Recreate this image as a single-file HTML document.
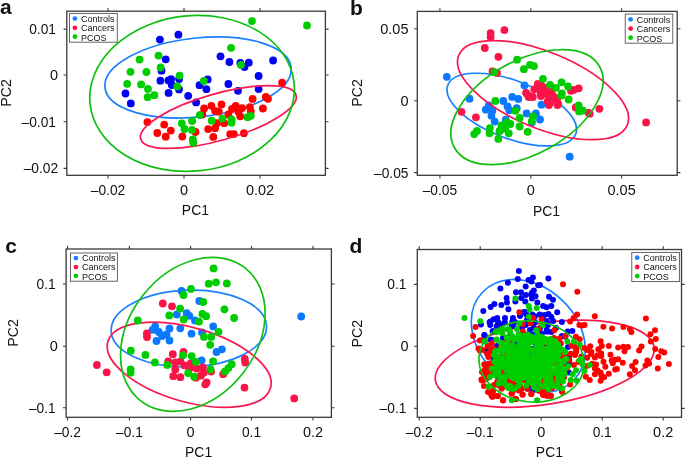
<!DOCTYPE html>
<html><head><meta charset="utf-8"><title>PCA plots</title>
<style>html,body{margin:0;padding:0;background:#fff;}svg{display:block;will-change:transform;}</style></head>
<body><svg width="685" height="459" viewBox="0 0 685 459" font-family='"Liberation Sans", sans-serif' fill="#111">
<rect width="685" height="459" fill="#fff"/>
<g fill="#0000f5"><circle cx="159.9" cy="39.6" r="3.9"/><circle cx="178.4" cy="34.7" r="3.9"/><circle cx="165.7" cy="59.3" r="3.9"/><circle cx="161.5" cy="70.7" r="3.9"/><circle cx="160.4" cy="80.7" r="3.9"/><circle cx="168.5" cy="80.4" r="3.9"/><circle cx="171.1" cy="79.1" r="3.9"/><circle cx="171.8" cy="85.0" r="3.9"/><circle cx="179.1" cy="79.0" r="3.9"/><circle cx="179.0" cy="89.4" r="3.9"/><circle cx="125.5" cy="93.5" r="3.9"/><circle cx="168.6" cy="92.9" r="3.9"/><circle cx="188.2" cy="95.8" r="3.9"/><circle cx="130.8" cy="103.4" r="3.9"/><circle cx="196.1" cy="102.4" r="3.9"/><circle cx="199.5" cy="85.2" r="3.9"/><circle cx="207.7" cy="79.4" r="3.9"/><circle cx="206.4" cy="89.2" r="3.9"/><circle cx="228.4" cy="84.0" r="3.9"/><circle cx="238.0" cy="90.8" r="3.9"/><circle cx="258.6" cy="89.1" r="3.9"/><circle cx="258.6" cy="76.0" r="3.9"/><circle cx="220.5" cy="56.3" r="3.9"/><circle cx="229.4" cy="62.0" r="3.9"/><circle cx="240.3" cy="62.9" r="3.9"/><circle cx="248.8" cy="62.7" r="3.9"/><circle cx="244.5" cy="67.0" r="3.9"/><circle cx="273.1" cy="60.5" r="3.9"/></g>
<ellipse cx="198.05" cy="77.45" rx="39.45" ry="93.61" transform="rotate(83.81 198.05 77.45)" fill="none" stroke="#1a80ff" stroke-width="1.7"/>
<g fill="#ff0000"><circle cx="147.4" cy="122.1" r="3.9"/><circle cx="164.2" cy="124.6" r="3.9"/><circle cx="170.8" cy="130.6" r="3.9"/><circle cx="157.3" cy="133.0" r="3.9"/><circle cx="165.7" cy="136.7" r="3.9"/><circle cx="182.3" cy="136.5" r="3.9"/><circle cx="195.5" cy="132.0" r="3.9"/><circle cx="204.1" cy="108.5" r="3.9"/><circle cx="202.3" cy="114.5" r="3.9"/><circle cx="211.4" cy="105.8" r="3.9"/><circle cx="221.5" cy="104.4" r="3.9"/><circle cx="215.1" cy="110.8" r="3.9"/><circle cx="218.8" cy="111.7" r="3.9"/><circle cx="235.7" cy="105.8" r="3.9"/><circle cx="232.0" cy="109.0" r="3.9"/><circle cx="228.4" cy="114.5" r="3.9"/><circle cx="242.1" cy="108.1" r="3.9"/><circle cx="238.4" cy="111.7" r="3.9"/><circle cx="240.3" cy="116.3" r="3.9"/><circle cx="249.9" cy="107.1" r="3.9"/><circle cx="250.8" cy="111.3" r="3.9"/><circle cx="252.6" cy="99.0" r="3.9"/><circle cx="208.2" cy="129.1" r="3.9"/><circle cx="215.1" cy="128.2" r="3.9"/><circle cx="216.9" cy="123.2" r="3.9"/><circle cx="224.2" cy="123.2" r="3.9"/><circle cx="213.3" cy="136.9" r="3.9"/><circle cx="230.2" cy="134.1" r="3.9"/><circle cx="233.9" cy="134.1" r="3.9"/><circle cx="243.9" cy="133.2" r="3.9"/><circle cx="262.9" cy="108.5" r="3.9"/><circle cx="265.8" cy="97.0" r="3.9"/><circle cx="268.0" cy="98.8" r="3.9"/><circle cx="282.1" cy="82.7" r="3.9"/></g>
<ellipse cx="218.38" cy="117.07" rx="23.35" ry="80.71" transform="rotate(74.24 218.38 117.07)" fill="none" stroke="#f81850" stroke-width="1.7"/>
<g fill="#00cd00"><circle cx="158.5" cy="55.6" r="3.9"/><circle cx="139.6" cy="59.6" r="3.9"/><circle cx="160.6" cy="67.5" r="3.9"/><circle cx="130.5" cy="71.8" r="3.9"/><circle cx="146.4" cy="72.0" r="3.9"/><circle cx="179.6" cy="75.7" r="3.9"/><circle cx="127.2" cy="83.8" r="3.9"/><circle cx="141.1" cy="84.4" r="3.9"/><circle cx="148.0" cy="88.9" r="3.9"/><circle cx="177.3" cy="86.4" r="3.9"/><circle cx="154.4" cy="95.2" r="3.9"/><circle cx="147.7" cy="97.2" r="3.9"/><circle cx="203.8" cy="81.0" r="3.9"/><circle cx="231.0" cy="47.8" r="3.9"/><circle cx="241.0" cy="64.9" r="3.9"/><circle cx="252.0" cy="21.1" r="3.9"/><circle cx="307.0" cy="25.5" r="3.9"/><circle cx="199.8" cy="115.1" r="3.9"/><circle cx="192.1" cy="120.9" r="3.9"/><circle cx="181.8" cy="123.3" r="3.9"/><circle cx="184.5" cy="129.0" r="3.9"/><circle cx="192.0" cy="129.9" r="3.9"/><circle cx="192.8" cy="139.5" r="3.9"/><circle cx="193.3" cy="142.7" r="3.9"/><circle cx="211.7" cy="120.7" r="3.9"/><circle cx="222.4" cy="118.6" r="3.9"/><circle cx="231.6" cy="119.5" r="3.9"/><circle cx="231.6" cy="122.7" r="3.9"/><circle cx="247.6" cy="117.2" r="3.9"/><circle cx="250.8" cy="115.8" r="3.9"/></g>
<ellipse cx="192.08" cy="93.42" rx="102.53" ry="77.68" transform="rotate(174.15 192.08 93.42)" fill="none" stroke="#10c010" stroke-width="1.7"/>
<path d="M108 175.3v3.2M108 11.2v-3.2M184 175.3v3.2M184 11.2v-3.2M260 175.3v3.2M260 11.2v-3.2M66.8 29.1h-3.2M325.4 29.1h3.2M66.8 75h-3.2M325.4 75h3.2M66.8 121.8h-3.2M325.4 121.8h3.2M66.8 168.4h-3.2M325.4 168.4h3.2" stroke="#3a3a3a" stroke-width="1.1" fill="none"/>
<rect x="66.8" y="11.2" width="258.59999999999997" height="164.10000000000002" fill="none" stroke="#3a3a3a" stroke-width="1.3"/>
<text x="0" y="0" font-size="14.5" text-anchor="middle" font-weight="normal" transform="translate(108 195) scale(0.95 1)" >&#8211;0.02</text>
<text x="184" y="195" font-size="14.5" text-anchor="middle" font-weight="normal" >0</text>
<text x="260" y="195" font-size="14.5" text-anchor="middle" font-weight="normal" >0.02</text>
<text x="0" y="0" font-size="14.5" text-anchor="end" font-weight="normal" transform="translate(56.0 34.1) scale(0.95 1)" >0.01</text>
<text x="58.1" y="80.0" font-size="14.5" text-anchor="end" font-weight="normal" >0</text>
<text x="0" y="0" font-size="14.5" text-anchor="end" font-weight="normal" transform="translate(56.0 126.8) scale(0.95 1)" >&#8211;0.01</text>
<text x="0" y="0" font-size="14.5" text-anchor="end" font-weight="normal" transform="translate(58.1 173.4) scale(0.95 1)" >&#8211;0.02</text>
<text x="0" y="0" font-size="14.5" text-anchor="middle" font-weight="normal" transform="translate(195.4 215.3) scale(0.96 1)" >PC1</text>
<text x="0" y="0" font-size="14.5" text-anchor="middle" transform="translate(11.3 93.0) rotate(-90) scale(0.98 1)">PC2</text>
<rect x="69.5" y="13.4" width="47.8" height="28.800000000000004" fill="#fff" stroke="#555" stroke-width="0.9"/>
<circle cx="74.9" cy="18.6" r="2.4" fill="#1a80ff"/>
<text x="81.0" y="21.8" font-size="9">Controls</text>
<circle cx="74.9" cy="27.8" r="2.4" fill="#fa1448"/>
<text x="81.0" y="31.1" font-size="9">Cancers</text>
<circle cx="74.9" cy="36.7" r="2.4" fill="#00cd00"/>
<text x="81.0" y="40.5" font-size="9">PCOS</text>
<text x="0" y="14.1" font-size="21" text-anchor="start" font-weight="bold" >a</text>
<g fill="#0a78ff"><circle cx="446.8" cy="76.8" r="3.9"/><circle cx="469.5" cy="98.7" r="3.9"/><circle cx="488.8" cy="105.3" r="3.9"/><circle cx="485.8" cy="109.7" r="3.9"/><circle cx="492.3" cy="111.0" r="3.9"/><circle cx="491.5" cy="115.8" r="3.9"/><circle cx="494.7" cy="121.6" r="3.9"/><circle cx="503.3" cy="101.0" r="3.9"/><circle cx="507.5" cy="106.4" r="3.9"/><circle cx="509.4" cy="110.2" r="3.9"/><circle cx="512.2" cy="96.9" r="3.9"/><circle cx="518.3" cy="98.9" r="3.9"/><circle cx="516.7" cy="108.2" r="3.9"/><circle cx="526.6" cy="113.4" r="3.9"/><circle cx="505.8" cy="119.7" r="3.9"/><circle cx="535.9" cy="113.4" r="3.9"/><circle cx="540.0" cy="119.5" r="3.9"/><circle cx="531.8" cy="122.6" r="3.9"/><circle cx="541.5" cy="104.7" r="3.9"/><circle cx="524.4" cy="85.5" r="3.9"/><circle cx="569.7" cy="156.7" r="3.9"/></g>
<ellipse cx="511.79" cy="109.59" rx="68.49" ry="28.79" transform="rotate(-159.07 511.79 109.59)" fill="none" stroke="#1a80ff" stroke-width="1.7"/>
<g fill="#fa1448"><circle cx="504.4" cy="30.1" r="3.9"/><circle cx="490.6" cy="33.1" r="3.9"/><circle cx="490.6" cy="37.1" r="3.9"/><circle cx="484.8" cy="48.0" r="3.9"/><circle cx="498.4" cy="56.8" r="3.9"/><circle cx="492.5" cy="71.4" r="3.9"/><circle cx="497.0" cy="73.0" r="3.9"/><circle cx="461.5" cy="111.8" r="3.9"/><circle cx="475.9" cy="117.3" r="3.9"/><circle cx="526.6" cy="93.6" r="3.9"/><circle cx="530.4" cy="96.7" r="3.9"/><circle cx="536.7" cy="88.2" r="3.9"/><circle cx="540.8" cy="84.6" r="3.9"/><circle cx="543.1" cy="93.6" r="3.9"/><circle cx="548.9" cy="91.0" r="3.9"/><circle cx="547.7" cy="101.5" r="3.9"/><circle cx="552.4" cy="96.9" r="3.9"/><circle cx="558.2" cy="103.9" r="3.9"/><circle cx="556.2" cy="99.0" r="3.9"/><circle cx="571.0" cy="90.8" r="3.9"/><circle cx="578.7" cy="88.3" r="3.9"/><circle cx="573.9" cy="89.8" r="3.9"/><circle cx="575.7" cy="107.4" r="3.9"/><circle cx="588.4" cy="112.6" r="3.9"/><circle cx="589.7" cy="113.7" r="3.9"/><circle cx="599.4" cy="108.8" r="3.9"/><circle cx="646.1" cy="122.4" r="3.9"/><circle cx="528.7" cy="97.0" r="3.9"/><circle cx="532.8" cy="97.0" r="3.9"/><circle cx="541.0" cy="96.0" r="3.9"/><circle cx="549.2" cy="103.2" r="3.9"/><circle cx="557.3" cy="104.2" r="3.9"/><circle cx="555.3" cy="98.1" r="3.9"/><circle cx="537.8" cy="84.0" r="3.9"/><circle cx="534.3" cy="89.3" r="3.9"/><circle cx="540.7" cy="93.9" r="3.9"/><circle cx="543.6" cy="87.5" r="3.9"/><circle cx="547.7" cy="89.9" r="3.9"/><circle cx="551.2" cy="92.2" r="3.9"/><circle cx="553.5" cy="96.3" r="3.9"/><circle cx="548.9" cy="96.9" r="3.9"/><circle cx="550.0" cy="102.1" r="3.9"/><circle cx="548.9" cy="105.0" r="3.9"/><circle cx="557.0" cy="99.8" r="3.9"/><circle cx="557.6" cy="105.0" r="3.9"/><circle cx="530.2" cy="96.3" r="3.9"/><circle cx="526.1" cy="92.8" r="3.9"/></g>
<ellipse cx="543.03" cy="90.13" rx="37.98" ry="91.21" transform="rotate(112.58 543.03 90.13)" fill="none" stroke="#f81850" stroke-width="1.7"/>
<g fill="#00cd00"><circle cx="494.3" cy="72.2" r="3.9"/><circle cx="495.4" cy="101.0" r="3.9"/><circle cx="515.4" cy="110.8" r="3.9"/><circle cx="519.7" cy="118.0" r="3.9"/><circle cx="519.6" cy="126.5" r="3.9"/><circle cx="506.8" cy="122.4" r="3.9"/><circle cx="510.4" cy="124.0" r="3.9"/><circle cx="501.5" cy="125.3" r="3.9"/><circle cx="505.2" cy="128.5" r="3.9"/><circle cx="499.5" cy="130.9" r="3.9"/><circle cx="508.8" cy="133.3" r="3.9"/><circle cx="489.9" cy="128.1" r="3.9"/><circle cx="489.5" cy="133.3" r="3.9"/><circle cx="477.0" cy="130.9" r="3.9"/><circle cx="474.2" cy="134.1" r="3.9"/><circle cx="498.3" cy="138.9" r="3.9"/><circle cx="523.9" cy="69.2" r="3.9"/><circle cx="530.1" cy="64.8" r="3.9"/><circle cx="534.0" cy="66.1" r="3.9"/><circle cx="517.1" cy="59.7" r="3.9"/><circle cx="543.0" cy="78.8" r="3.9"/><circle cx="550.1" cy="84.8" r="3.9"/><circle cx="555.9" cy="87.8" r="3.9"/><circle cx="561.6" cy="82.3" r="3.9"/><circle cx="568.0" cy="86.4" r="3.9"/><circle cx="561.8" cy="93.5" r="3.9"/><circle cx="568.6" cy="99.5" r="3.9"/><circle cx="578.6" cy="105.4" r="3.9"/><circle cx="579.1" cy="111.4" r="3.9"/><circle cx="582.8" cy="110.5" r="3.9"/><circle cx="532.8" cy="116.5" r="3.9"/><circle cx="531.8" cy="121.1" r="3.9"/><circle cx="527.7" cy="131.8" r="3.9"/><circle cx="500.1" cy="130.8" r="3.9"/><circle cx="561.4" cy="95.5" r="3.9"/></g>
<ellipse cx="527.00" cy="107.09" rx="46.70" ry="83.14" transform="rotate(60.75 527.00 107.09)" fill="none" stroke="#10c010" stroke-width="1.7"/>
<path d="M439.9 175.3v3.2M439.9 11.4v-3.2M530.8 175.3v3.2M530.8 11.4v-3.2M621.6 175.3v3.2M621.6 11.4v-3.2M417.3 28.8h-3.2M677.2 28.8h3.2M417.3 100.75h-3.2M677.2 100.75h3.2M417.3 172.6h-3.2M677.2 172.6h3.2" stroke="#3a3a3a" stroke-width="1.1" fill="none"/>
<rect x="417.3" y="11.4" width="259.90000000000003" height="163.9" fill="none" stroke="#3a3a3a" stroke-width="1.3"/>
<text x="0" y="0" font-size="14.5" text-anchor="middle" font-weight="normal" transform="translate(439.9 195) scale(0.95 1)" >&#8211;0.05</text>
<text x="530.8" y="195" font-size="14.5" text-anchor="middle" font-weight="normal" >0</text>
<text x="621.6" y="195" font-size="14.5" text-anchor="middle" font-weight="normal" >0.05</text>
<text x="408.5" y="33.8" font-size="14.5" text-anchor="end" font-weight="normal" >0.05</text>
<text x="408.5" y="105.75" font-size="14.5" text-anchor="end" font-weight="normal" >0</text>
<text x="0" y="0" font-size="14.5" text-anchor="end" font-weight="normal" transform="translate(408.5 177.6) scale(0.95 1)" >&#8211;0.05</text>
<text x="0" y="0" font-size="14.5" text-anchor="middle" font-weight="normal" transform="translate(546.5 215.5) scale(0.96 1)" >PC1</text>
<text x="0" y="0" font-size="14.5" text-anchor="middle" transform="translate(361.8 92.9) rotate(-90) scale(0.98 1)">PC2</text>
<rect x="625.2" y="14.1" width="47.59999999999991" height="29.1" fill="#fff" stroke="#555" stroke-width="0.9"/>
<circle cx="630.6" cy="19.3" r="2.4" fill="#1a80ff"/>
<text x="636.7" y="22.5" font-size="9">Controls</text>
<circle cx="630.6" cy="28.6" r="2.4" fill="#fa1448"/>
<text x="636.7" y="32.0" font-size="9">Cancers</text>
<circle cx="630.6" cy="37.7" r="2.4" fill="#00cd00"/>
<text x="636.7" y="41.5" font-size="9">PCOS</text>
<text x="350" y="14.8" font-size="21" text-anchor="start" font-weight="bold" >b</text>
<g fill="#0a78ff"><circle cx="181.5" cy="290.9" r="3.9"/><circle cx="199.3" cy="301.0" r="3.9"/><circle cx="176.8" cy="314.5" r="3.9"/><circle cx="186.7" cy="313.2" r="3.9"/><circle cx="189.4" cy="315.8" r="3.9"/><circle cx="195.0" cy="320.5" r="3.9"/><circle cx="155.2" cy="326.3" r="3.9"/><circle cx="152.6" cy="329.8" r="3.9"/><circle cx="158.8" cy="332.0" r="3.9"/><circle cx="162.0" cy="336.0" r="3.9"/><circle cx="156.5" cy="341.0" r="3.9"/><circle cx="166.5" cy="334.5" r="3.9"/><circle cx="169.5" cy="328.4" r="3.9"/><circle cx="169.5" cy="340.5" r="3.9"/><circle cx="180.3" cy="328.3" r="3.9"/><circle cx="191.5" cy="333.7" r="3.9"/><circle cx="202.0" cy="332.3" r="3.9"/><circle cx="213.2" cy="326.4" r="3.9"/><circle cx="216.5" cy="352.0" r="3.9"/><circle cx="221.9" cy="349.3" r="3.9"/><circle cx="201.6" cy="360.3" r="3.9"/><circle cx="301.2" cy="316.5" r="3.9"/></g>
<ellipse cx="188.86" cy="328.49" rx="38.39" ry="77.76" transform="rotate(88.29 188.86 328.49)" fill="none" stroke="#1a80ff" stroke-width="1.7"/>
<g fill="#fa1448"><circle cx="162.8" cy="303.5" r="3.9"/><circle cx="172.0" cy="306.3" r="3.9"/><circle cx="146.9" cy="333.5" r="3.9"/><circle cx="147.0" cy="337.0" r="3.9"/><circle cx="96.9" cy="365.0" r="3.9"/><circle cx="106.7" cy="372.3" r="3.9"/><circle cx="172.8" cy="354.2" r="3.9"/><circle cx="183.5" cy="351.8" r="3.9"/><circle cx="168.2" cy="361.4" r="3.9"/><circle cx="175.3" cy="362.4" r="3.9"/><circle cx="180.4" cy="361.4" r="3.9"/><circle cx="175.3" cy="369.5" r="3.9"/><circle cx="184.5" cy="365.4" r="3.9"/><circle cx="190.7" cy="363.4" r="3.9"/><circle cx="189.6" cy="368.5" r="3.9"/><circle cx="196.8" cy="368.5" r="3.9"/><circle cx="202.9" cy="367.5" r="3.9"/><circle cx="203.9" cy="372.6" r="3.9"/><circle cx="200.9" cy="375.7" r="3.9"/><circle cx="195.8" cy="377.7" r="3.9"/><circle cx="173.3" cy="376.2" r="3.9"/><circle cx="180.4" cy="377.2" r="3.9"/><circle cx="211.1" cy="371.6" r="3.9"/><circle cx="205.3" cy="384.3" r="3.9"/><circle cx="206.6" cy="382.5" r="3.9"/><circle cx="223.2" cy="374.2" r="3.9"/><circle cx="244.8" cy="358.9" r="3.9"/><circle cx="245.2" cy="362.6" r="3.9"/><circle cx="244.5" cy="387.6" r="3.9"/><circle cx="294.2" cy="398.4" r="3.9"/></g>
<ellipse cx="189.20" cy="364.77" rx="37.11" ry="84.54" transform="rotate(105.92 189.20 364.77)" fill="none" stroke="#f81850" stroke-width="1.7"/>
<g fill="#00cd00"><circle cx="213.6" cy="268.4" r="3.9"/><circle cx="208.7" cy="283.7" r="3.9"/><circle cx="216.0" cy="282.3" r="3.9"/><circle cx="226.8" cy="283.4" r="3.9"/><circle cx="191.0" cy="288.9" r="3.9"/><circle cx="183.5" cy="295.0" r="3.9"/><circle cx="203.2" cy="302.0" r="3.9"/><circle cx="137.8" cy="320.5" r="3.9"/><circle cx="180.1" cy="308.6" r="3.9"/><circle cx="224.4" cy="309.3" r="3.9"/><circle cx="169.3" cy="315.4" r="3.9"/><circle cx="183.7" cy="319.5" r="3.9"/><circle cx="199.0" cy="321.6" r="3.9"/><circle cx="202.4" cy="313.9" r="3.9"/><circle cx="206.1" cy="316.2" r="3.9"/><circle cx="234.1" cy="318.0" r="3.9"/><circle cx="218.5" cy="331.8" r="3.9"/><circle cx="204.0" cy="336.9" r="3.9"/><circle cx="211.2" cy="336.9" r="3.9"/><circle cx="210.2" cy="344.8" r="3.9"/><circle cx="183.0" cy="355.2" r="3.9"/><circle cx="191.6" cy="356.1" r="3.9"/><circle cx="195.9" cy="361.9" r="3.9"/><circle cx="213.1" cy="361.3" r="3.9"/><circle cx="167.2" cy="364.9" r="3.9"/><circle cx="188.1" cy="373.1" r="3.9"/><circle cx="194.2" cy="376.7" r="3.9"/><circle cx="210.6" cy="369.5" r="3.9"/><circle cx="231.7" cy="364.2" r="3.9"/><circle cx="228.4" cy="368.1" r="3.9"/><circle cx="225.1" cy="371.4" r="3.9"/><circle cx="130.8" cy="350.7" r="3.9"/><circle cx="145.4" cy="354.9" r="3.9"/><circle cx="154.9" cy="362.4" r="3.9"/><circle cx="130.6" cy="369.5" r="3.9"/><circle cx="130.6" cy="372.7" r="3.9"/></g>
<ellipse cx="192.84" cy="334.38" rx="63.38" ry="84.51" transform="rotate(-141.57 192.84 334.38)" fill="none" stroke="#10c010" stroke-width="1.7"/>
<path d="M67.6 417.3v3.2M67.6 249v-3.2M129.4 417.3v3.2M129.4 249v-3.2M190.6 417.3v3.2M190.6 249v-3.2M251.5 417.3v3.2M251.5 249v-3.2M313 417.3v3.2M313 249v-3.2M66.1 284h-3.2M331.4 284h3.2M66.1 346.2h-3.2M331.4 346.2h3.2M66.1 407.8h-3.2M331.4 407.8h3.2" stroke="#3a3a3a" stroke-width="1.1" fill="none"/>
<rect x="66.1" y="249" width="265.29999999999995" height="168.3" fill="none" stroke="#3a3a3a" stroke-width="1.3"/>
<text x="0" y="0" font-size="14.5" text-anchor="middle" font-weight="normal" transform="translate(67.6 437.3) scale(0.95 1)" >&#8211;0.2</text>
<text x="0" y="0" font-size="14.5" text-anchor="middle" font-weight="normal" transform="translate(129.4 437.3) scale(0.95 1)" >&#8211;0.1</text>
<text x="190.6" y="437.3" font-size="14.5" text-anchor="middle" font-weight="normal" >0</text>
<text x="0" y="0" font-size="14.5" text-anchor="middle" font-weight="normal" transform="translate(251.5 437.3) scale(0.95 1)" >0.1</text>
<text x="313" y="437.3" font-size="14.5" text-anchor="middle" font-weight="normal" >0.2</text>
<text x="0" y="0" font-size="14.5" text-anchor="end" font-weight="normal" transform="translate(55.699999999999996 289.0) scale(0.95 1)" >0.1</text>
<text x="57.8" y="351.2" font-size="14.5" text-anchor="end" font-weight="normal" >0</text>
<text x="0" y="0" font-size="14.5" text-anchor="end" font-weight="normal" transform="translate(55.699999999999996 412.8) scale(0.95 1)" >&#8211;0.1</text>
<text x="0" y="0" font-size="14.5" text-anchor="middle" font-weight="normal" transform="translate(198.6 457.4) scale(0.96 1)" >PC1</text>
<text x="0" y="0" font-size="14.5" text-anchor="middle" transform="translate(17.6 333) rotate(-90) scale(0.98 1)">PC2</text>
<rect x="70.5" y="253" width="46.900000000000006" height="28.19999999999999" fill="#fff" stroke="#555" stroke-width="0.9"/>
<circle cx="75.9" cy="258.1" r="2.4" fill="#1a80ff"/>
<text x="82.0" y="261.2" font-size="9">Controls</text>
<circle cx="75.9" cy="267.1" r="2.4" fill="#fa1448"/>
<text x="82.0" y="270.3" font-size="9">Cancers</text>
<circle cx="75.9" cy="275.8" r="2.4" fill="#00cd00"/>
<text x="82.0" y="279.5" font-size="9">PCOS</text>
<text x="5.3" y="252.5" font-size="21" text-anchor="start" font-weight="bold" >c</text>
<ellipse cx="528.32" cy="335.97" rx="49.22" ry="63.36" transform="rotate(133.98 528.32 335.97)" fill="none" stroke="#1a80ff" stroke-width="1.7"/>
<ellipse cx="544.72" cy="363.74" rx="110.61" ry="40.62" transform="rotate(171.34 544.72 363.74)" fill="none" stroke="#f81850" stroke-width="1.7"/>
<g fill="#0000f5"><circle cx="518.9" cy="270.9" r="3.0"/><circle cx="517.8" cy="278.9" r="3.0"/><circle cx="507.9" cy="282.8" r="3.0"/><circle cx="500.4" cy="288.5" r="3.0"/><circle cx="525.7" cy="286.6" r="3.0"/><circle cx="528.5" cy="280.1" r="3.0"/><circle cx="516.0" cy="292.3" r="3.0"/><circle cx="521.0" cy="292.2" r="3.0"/><circle cx="525.9" cy="295.1" r="3.0"/><circle cx="506.6" cy="298.1" r="3.0"/><circle cx="507.0" cy="302.5" r="3.0"/><circle cx="515.4" cy="301.5" r="3.0"/><circle cx="521.2" cy="298.0" r="3.0"/><circle cx="525.3" cy="301.5" r="3.0"/><circle cx="494.4" cy="303.9" r="3.0"/><circle cx="490.6" cy="306.9" r="3.0"/><circle cx="501.4" cy="305.0" r="3.0"/><circle cx="508.4" cy="309.3" r="3.0"/><circle cx="483.3" cy="311.0" r="3.0"/><circle cx="532.9" cy="277.4" r="3.0"/><circle cx="531.4" cy="281.6" r="3.0"/><circle cx="548.4" cy="278.5" r="3.0"/><circle cx="540.0" cy="285.1" r="3.0"/><circle cx="533.8" cy="290.6" r="3.0"/><circle cx="532.0" cy="292.7" r="3.0"/><circle cx="535.5" cy="296.2" r="3.0"/><circle cx="532.0" cy="298.5" r="3.0"/><circle cx="549.0" cy="296.8" r="3.0"/><circle cx="553.0" cy="299.7" r="3.0"/><circle cx="537.3" cy="302.6" r="3.0"/><circle cx="543.1" cy="306.1" r="3.0"/><circle cx="546.6" cy="307.3" r="3.0"/><circle cx="551.3" cy="306.1" r="3.0"/><circle cx="480.9" cy="324.5" r="3.0"/><circle cx="489.6" cy="322.2" r="3.0"/><circle cx="493.7" cy="319.3" r="3.0"/><circle cx="497.2" cy="318.1" r="3.0"/><circle cx="490.2" cy="325.1" r="3.0"/><circle cx="504.8" cy="322.2" r="3.0"/><circle cx="513.0" cy="318.1" r="3.0"/><circle cx="512.4" cy="321.6" r="3.0"/><circle cx="496.6" cy="326.3" r="3.0"/><circle cx="492.6" cy="331.0" r="3.0"/><circle cx="484.4" cy="335.0" r="3.0"/><circle cx="491.4" cy="339.7" r="3.0"/><circle cx="538.2" cy="285.2" r="3.0"/><circle cx="531.2" cy="294.5" r="3.0"/><circle cx="525.4" cy="312.0" r="3.0"/><circle cx="532.4" cy="314.4" r="3.0"/><circle cx="557.2" cy="312.2" r="3.0"/><circle cx="561.9" cy="322.1" r="3.0"/><circle cx="523.4" cy="312.2" r="3.0"/><circle cx="526.3" cy="314.5" r="3.0"/><circle cx="535.0" cy="316.3" r="3.0"/><circle cx="539.7" cy="314.5" r="3.0"/><circle cx="544.4" cy="315.1" r="3.0"/><circle cx="548.5" cy="313.9" r="3.0"/><circle cx="551.4" cy="316.9" r="3.0"/><circle cx="553.1" cy="321.0" r="3.0"/><circle cx="546.7" cy="321.0" r="3.0"/><circle cx="511.7" cy="325.0" r="3.0"/><circle cx="525.7" cy="325.0" r="3.0"/><circle cx="533.9" cy="327.4" r="3.0"/><circle cx="546.7" cy="329.7" r="3.0"/><circle cx="551.4" cy="332.0" r="3.0"/><circle cx="567.7" cy="331.5" r="3.0"/><circle cx="572.4" cy="330.9" r="3.0"/><circle cx="561.9" cy="336.1" r="3.0"/><circle cx="565.4" cy="336.7" r="3.0"/><circle cx="547.0" cy="331.7" r="3.0"/><circle cx="541.8" cy="333.4" r="3.0"/><circle cx="554.0" cy="350.4" r="3.0"/><circle cx="568.0" cy="346.9" r="3.0"/><circle cx="563.4" cy="365.0" r="3.0"/><circle cx="486.2" cy="351.8" r="3.0"/><circle cx="484.4" cy="335.3" r="3.0"/><circle cx="490.5" cy="339.8" r="3.0"/><circle cx="486.7" cy="350.5" r="3.0"/><circle cx="510.4" cy="335.3" r="3.0"/><circle cx="501.2" cy="324.6" r="3.0"/><circle cx="490.5" cy="321.5" r="3.0"/><circle cx="513.4" cy="326.1" r="3.0"/><circle cx="516.5" cy="344.4" r="3.0"/><circle cx="505.8" cy="342.9" r="3.0"/><circle cx="497.0" cy="346.0" r="3.0"/><circle cx="503.0" cy="338.0" r="3.0"/><circle cx="520.0" cy="316.0" r="3.0"/><circle cx="527.0" cy="320.0" r="3.0"/><circle cx="535.0" cy="322.0" r="3.0"/><circle cx="542.0" cy="318.0" r="3.0"/><circle cx="548.0" cy="325.0" r="3.0"/><circle cx="556.0" cy="328.0" r="3.0"/><circle cx="530.0" cy="330.0" r="3.0"/><circle cx="522.0" cy="328.0" r="3.0"/><circle cx="515.0" cy="322.0" r="3.0"/><circle cx="540.0" cy="328.0" r="3.0"/><circle cx="498.0" cy="322.0" r="3.0"/><circle cx="505.0" cy="318.0" r="3.0"/></g>
<g fill="#0000f5"><circle cx="519.1" cy="334.9" r="3.0"/><circle cx="522.4" cy="334.5" r="3.0"/><circle cx="530.7" cy="334.9" r="3.0"/><circle cx="534.0" cy="334.5" r="3.0"/><circle cx="512.8" cy="340.0" r="3.0"/><circle cx="518.1" cy="338.1" r="3.0"/><circle cx="526.1" cy="340.5" r="3.0"/><circle cx="529.9" cy="337.9" r="3.0"/><circle cx="535.2" cy="337.8" r="3.0"/><circle cx="543.1" cy="339.9" r="3.0"/><circle cx="545.5" cy="339.8" r="3.0"/><circle cx="513.4" cy="344.1" r="3.0"/><circle cx="516.6" cy="342.8" r="3.0"/><circle cx="523.2" cy="342.6" r="3.0"/><circle cx="524.8" cy="343.3" r="3.0"/><circle cx="529.9" cy="341.9" r="3.0"/><circle cx="535.4" cy="342.8" r="3.0"/><circle cx="537.7" cy="342.6" r="3.0"/><circle cx="541.4" cy="343.7" r="3.0"/><circle cx="546.0" cy="343.8" r="3.0"/><circle cx="550.5" cy="344.2" r="3.0"/><circle cx="504.7" cy="347.9" r="3.0"/><circle cx="508.6" cy="347.1" r="3.0"/><circle cx="518.1" cy="346.2" r="3.0"/><circle cx="521.4" cy="347.4" r="3.0"/><circle cx="524.7" cy="346.8" r="3.0"/><circle cx="534.1" cy="348.6" r="3.0"/><circle cx="547.5" cy="347.0" r="3.0"/><circle cx="551.7" cy="348.0" r="3.0"/><circle cx="496.1" cy="350.1" r="3.0"/><circle cx="508.4" cy="350.4" r="3.0"/><circle cx="512.5" cy="352.8" r="3.0"/><circle cx="531.5" cy="352.2" r="3.0"/><circle cx="493.3" cy="355.9" r="3.0"/><circle cx="500.7" cy="356.6" r="3.0"/><circle cx="524.5" cy="357.3" r="3.0"/><circle cx="529.0" cy="356.5" r="3.0"/><circle cx="554.0" cy="356.6" r="3.0"/><circle cx="568.9" cy="356.8" r="3.0"/><circle cx="493.4" cy="360.6" r="3.0"/><circle cx="518.3" cy="358.5" r="3.0"/><circle cx="534.9" cy="361.0" r="3.0"/><circle cx="552.6" cy="361.2" r="3.0"/><circle cx="495.4" cy="363.2" r="3.0"/><circle cx="500.9" cy="363.0" r="3.0"/><circle cx="531.0" cy="363.0" r="3.0"/><circle cx="535.1" cy="363.0" r="3.0"/><circle cx="538.3" cy="363.2" r="3.0"/><circle cx="564.9" cy="364.4" r="3.0"/><circle cx="569.1" cy="363.2" r="3.0"/><circle cx="499.9" cy="368.2" r="3.0"/><circle cx="517.2" cy="367.3" r="3.0"/><circle cx="521.9" cy="369.0" r="3.0"/><circle cx="529.2" cy="368.4" r="3.0"/><circle cx="542.7" cy="367.4" r="3.0"/><circle cx="496.8" cy="373.4" r="3.0"/><circle cx="504.6" cy="371.9" r="3.0"/><circle cx="512.8" cy="373.4" r="3.0"/><circle cx="525.5" cy="372.1" r="3.0"/><circle cx="556.7" cy="372.1" r="3.0"/><circle cx="568.8" cy="372.4" r="3.0"/><circle cx="497.0" cy="375.9" r="3.0"/><circle cx="514.5" cy="377.2" r="3.0"/><circle cx="516.7" cy="376.3" r="3.0"/><circle cx="538.5" cy="375.3" r="3.0"/><circle cx="556.2" cy="375.6" r="3.0"/><circle cx="502.3" cy="380.2" r="3.0"/><circle cx="516.5" cy="380.0" r="3.0"/><circle cx="526.8" cy="380.2" r="3.0"/><circle cx="539.8" cy="379.8" r="3.0"/><circle cx="550.9" cy="382.3" r="3.0"/><circle cx="500.7" cy="385.4" r="3.0"/><circle cx="516.2" cy="384.0" r="3.0"/><circle cx="535.7" cy="385.8" r="3.0"/><circle cx="550.0" cy="383.8" r="3.0"/><circle cx="529.9" cy="388.3" r="3.0"/><circle cx="532.9" cy="389.7" r="3.0"/></g>
<g fill="#ff0000"><circle cx="563.0" cy="284.2" r="3.0"/><circle cx="577.3" cy="291.8" r="3.0"/><circle cx="519.4" cy="312.3" r="3.0"/><circle cx="475.6" cy="326.9" r="3.0"/><circle cx="473.1" cy="335.9" r="3.0"/><circle cx="481.5" cy="340.3" r="3.0"/><circle cx="487.9" cy="346.1" r="3.0"/><circle cx="478.5" cy="348.5" r="3.0"/><circle cx="493.7" cy="349.0" r="3.0"/><circle cx="507.2" cy="343.8" r="3.0"/><circle cx="533.0" cy="317.9" r="3.0"/><circle cx="541.5" cy="319.2" r="3.0"/><circle cx="530.4" cy="323.3" r="3.0"/><circle cx="522.8" cy="323.9" r="3.0"/><circle cx="522.8" cy="331.5" r="3.0"/><circle cx="538.5" cy="329.1" r="3.0"/><circle cx="554.3" cy="330.3" r="3.0"/><circle cx="565.4" cy="336.1" r="3.0"/><circle cx="540.9" cy="339.0" r="3.0"/><circle cx="559.6" cy="338.5" r="3.0"/><circle cx="570.1" cy="321.5" r="3.0"/><circle cx="573.6" cy="318.0" r="3.0"/><circle cx="577.1" cy="314.5" r="3.0"/><circle cx="575.9" cy="336.7" r="3.0"/><circle cx="579.4" cy="325.0" r="3.0"/><circle cx="594.8" cy="316.2" r="3.0"/><circle cx="582.4" cy="325.4" r="3.0"/><circle cx="584.6" cy="324.9" r="3.0"/><circle cx="603.4" cy="326.7" r="3.0"/><circle cx="612.1" cy="328.4" r="3.0"/><circle cx="623.4" cy="327.0" r="3.0"/><circle cx="629.9" cy="329.0" r="3.0"/><circle cx="631.4" cy="332.1" r="3.0"/><circle cx="645.9" cy="318.4" r="3.0"/><circle cx="655.0" cy="330.2" r="3.0"/><circle cx="650.4" cy="334.2" r="3.0"/><circle cx="655.8" cy="338.9" r="3.0"/><circle cx="650.8" cy="341.6" r="3.0"/><circle cx="655.2" cy="348.9" r="3.0"/><circle cx="661.3" cy="351.2" r="3.0"/><circle cx="664.2" cy="352.6" r="3.0"/><circle cx="658.4" cy="356.9" r="3.0"/><circle cx="668.9" cy="364.0" r="3.0"/><circle cx="600.6" cy="341.3" r="3.0"/><circle cx="601.8" cy="346.0" r="3.0"/><circle cx="608.8" cy="346.0" r="3.0"/><circle cx="618.1" cy="347.5" r="3.0"/><circle cx="623.4" cy="346.8" r="3.0"/><circle cx="628.0" cy="347.1" r="3.0"/><circle cx="624.5" cy="351.2" r="3.0"/><circle cx="641.5" cy="346.5" r="3.0"/><circle cx="639.1" cy="350.6" r="3.0"/><circle cx="601.2" cy="353.5" r="3.0"/><circle cx="610.5" cy="354.7" r="3.0"/><circle cx="603.5" cy="361.8" r="3.0"/><circle cx="611.7" cy="360.4" r="3.0"/><circle cx="618.1" cy="359.3" r="3.0"/><circle cx="622.8" cy="362.8" r="3.0"/><circle cx="635.6" cy="361.9" r="3.0"/><circle cx="647.3" cy="360.6" r="3.0"/><circle cx="649.1" cy="363.5" r="3.0"/><circle cx="657.8" cy="368.4" r="3.0"/><circle cx="645.5" cy="365.5" r="3.0"/><circle cx="632.1" cy="366.1" r="3.0"/><circle cx="635.0" cy="370.2" r="3.0"/><circle cx="629.8" cy="374.3" r="3.0"/><circle cx="615.2" cy="369.6" r="3.0"/><circle cx="616.9" cy="369.0" r="3.0"/><circle cx="608.8" cy="373.7" r="3.0"/><circle cx="605.3" cy="366.7" r="3.0"/><circle cx="604.1" cy="377.2" r="3.0"/><circle cx="600.6" cy="380.7" r="3.0"/><circle cx="600.6" cy="372.5" r="3.0"/><circle cx="612.8" cy="363.2" r="3.0"/><circle cx="601.2" cy="356.2" r="3.0"/><circle cx="579.7" cy="339.3" r="3.0"/><circle cx="590.2" cy="346.3" r="3.0"/><circle cx="584.4" cy="348.0" r="3.0"/><circle cx="591.4" cy="352.1" r="3.0"/><circle cx="598.4" cy="349.2" r="3.0"/><circle cx="614.7" cy="359.7" r="3.0"/><circle cx="594.9" cy="357.4" r="3.0"/><circle cx="575.0" cy="346.9" r="3.0"/><circle cx="576.2" cy="351.5" r="3.0"/><circle cx="575.0" cy="355.0" r="3.0"/><circle cx="578.5" cy="362.0" r="3.0"/><circle cx="573.9" cy="365.0" r="3.0"/><circle cx="586.7" cy="366.1" r="3.0"/><circle cx="596.1" cy="364.4" r="3.0"/><circle cx="594.9" cy="368.5" r="3.0"/><circle cx="571.5" cy="345.7" r="3.0"/><circle cx="562.2" cy="351.5" r="3.0"/><circle cx="557.5" cy="353.9" r="3.0"/><circle cx="545.2" cy="389.2" r="3.0"/><circle cx="543.3" cy="395.1" r="3.0"/><circle cx="550.5" cy="395.8" r="3.0"/><circle cx="562.2" cy="391.8" r="3.0"/><circle cx="570.1" cy="384.6" r="3.0"/><circle cx="585.8" cy="376.8" r="3.0"/><circle cx="589.7" cy="380.1" r="3.0"/><circle cx="594.9" cy="374.2" r="3.0"/><circle cx="601.4" cy="375.5" r="3.0"/><circle cx="597.5" cy="370.3" r="3.0"/><circle cx="592.3" cy="363.7" r="3.0"/><circle cx="597.5" cy="355.2" r="3.0"/><circle cx="591.0" cy="353.9" r="3.0"/><circle cx="587.1" cy="357.8" r="3.0"/><circle cx="587.0" cy="350.0" r="3.0"/><circle cx="556.3" cy="380.1" r="3.0"/><circle cx="555.0" cy="377.5" r="3.0"/><circle cx="481.9" cy="380.5" r="3.0"/><circle cx="484.8" cy="365.2" r="3.0"/><circle cx="489.2" cy="369.6" r="3.0"/><circle cx="492.8" cy="391.5" r="3.0"/><circle cx="498.0" cy="395.9" r="3.0"/><circle cx="503.1" cy="400.3" r="3.0"/><circle cx="492.1" cy="396.6" r="3.0"/><circle cx="511.8" cy="393.7" r="3.0"/><circle cx="515.5" cy="398.8" r="3.0"/><circle cx="522.5" cy="394.4" r="3.0"/><circle cx="531.5" cy="394.1" r="3.0"/><circle cx="539.6" cy="390.8" r="3.0"/><circle cx="547.6" cy="390.0" r="3.0"/><circle cx="490.1" cy="351.8" r="3.0"/><circle cx="489.4" cy="364.0" r="3.0"/><circle cx="487.1" cy="369.4" r="3.0"/><circle cx="482.0" cy="372.0" r="3.0"/><circle cx="486.0" cy="377.0" r="3.0"/><circle cx="484.0" cy="386.0" r="3.0"/><circle cx="488.0" cy="392.0" r="3.0"/><circle cx="479.8" cy="340.6" r="3.0"/><circle cx="487.5" cy="345.9" r="3.0"/><circle cx="479.8" cy="350.5" r="3.0"/><circle cx="484.4" cy="364.2" r="3.0"/><circle cx="489.0" cy="365.8" r="3.0"/><circle cx="484.4" cy="370.4" r="3.0"/><circle cx="481.4" cy="379.5" r="3.0"/><circle cx="487.5" cy="378.0" r="3.0"/><circle cx="496.6" cy="384.2" r="3.0"/></g>
<g fill="#ff0000"><circle cx="526.3" cy="334.4" r="3.0"/><circle cx="538.8" cy="335.9" r="3.0"/><circle cx="522.0" cy="338.3" r="3.0"/><circle cx="537.6" cy="339.1" r="3.0"/><circle cx="504.2" cy="342.9" r="3.0"/><circle cx="508.4" cy="342.6" r="3.0"/><circle cx="555.2" cy="344.2" r="3.0"/><circle cx="500.9" cy="346.7" r="3.0"/><circle cx="512.4" cy="348.5" r="3.0"/><circle cx="529.1" cy="348.1" r="3.0"/><circle cx="539.7" cy="348.5" r="3.0"/><circle cx="542.1" cy="346.0" r="3.0"/><circle cx="556.4" cy="347.0" r="3.0"/><circle cx="558.6" cy="346.2" r="3.0"/><circle cx="501.6" cy="351.0" r="3.0"/><circle cx="506.1" cy="351.9" r="3.0"/><circle cx="516.4" cy="352.2" r="3.0"/><circle cx="522.5" cy="352.6" r="3.0"/><circle cx="524.8" cy="352.9" r="3.0"/><circle cx="535.4" cy="352.0" r="3.0"/><circle cx="537.3" cy="352.2" r="3.0"/><circle cx="542.8" cy="352.9" r="3.0"/><circle cx="547.8" cy="350.2" r="3.0"/><circle cx="552.1" cy="350.9" r="3.0"/><circle cx="556.8" cy="352.0" r="3.0"/><circle cx="558.8" cy="350.3" r="3.0"/><circle cx="563.5" cy="350.7" r="3.0"/><circle cx="495.6" cy="356.3" r="3.0"/><circle cx="503.8" cy="355.2" r="3.0"/><circle cx="508.3" cy="354.5" r="3.0"/><circle cx="512.5" cy="356.4" r="3.0"/><circle cx="516.4" cy="355.3" r="3.0"/><circle cx="521.4" cy="354.8" r="3.0"/><circle cx="534.6" cy="354.6" r="3.0"/><circle cx="538.4" cy="354.9" r="3.0"/><circle cx="541.3" cy="357.1" r="3.0"/><circle cx="547.4" cy="357.1" r="3.0"/><circle cx="550.5" cy="355.0" r="3.0"/><circle cx="559.0" cy="354.9" r="3.0"/><circle cx="564.8" cy="357.1" r="3.0"/><circle cx="497.9" cy="360.0" r="3.0"/><circle cx="499.8" cy="359.4" r="3.0"/><circle cx="503.7" cy="360.6" r="3.0"/><circle cx="509.0" cy="361.4" r="3.0"/><circle cx="512.0" cy="359.8" r="3.0"/><circle cx="522.9" cy="360.9" r="3.0"/><circle cx="525.3" cy="360.5" r="3.0"/><circle cx="530.0" cy="359.5" r="3.0"/><circle cx="537.6" cy="359.4" r="3.0"/><circle cx="543.0" cy="359.5" r="3.0"/><circle cx="545.8" cy="359.5" r="3.0"/><circle cx="556.8" cy="361.4" r="3.0"/><circle cx="560.5" cy="358.7" r="3.0"/><circle cx="564.1" cy="359.4" r="3.0"/><circle cx="569.4" cy="359.9" r="3.0"/><circle cx="492.5" cy="364.4" r="3.0"/><circle cx="504.3" cy="363.0" r="3.0"/><circle cx="508.5" cy="364.2" r="3.0"/><circle cx="512.6" cy="364.4" r="3.0"/><circle cx="517.6" cy="364.5" r="3.0"/><circle cx="521.5" cy="362.9" r="3.0"/><circle cx="527.1" cy="364.4" r="3.0"/><circle cx="543.0" cy="365.0" r="3.0"/><circle cx="547.8" cy="362.9" r="3.0"/><circle cx="550.8" cy="362.7" r="3.0"/><circle cx="554.5" cy="363.6" r="3.0"/><circle cx="559.4" cy="365.4" r="3.0"/><circle cx="492.5" cy="369.3" r="3.0"/><circle cx="497.9" cy="368.9" r="3.0"/><circle cx="505.2" cy="367.2" r="3.0"/><circle cx="508.0" cy="369.3" r="3.0"/><circle cx="513.6" cy="367.8" r="3.0"/><circle cx="527.3" cy="366.9" r="3.0"/><circle cx="535.3" cy="367.0" r="3.0"/><circle cx="539.6" cy="368.9" r="3.0"/><circle cx="546.7" cy="369.5" r="3.0"/><circle cx="549.9" cy="367.9" r="3.0"/><circle cx="556.6" cy="368.7" r="3.0"/><circle cx="558.6" cy="368.0" r="3.0"/><circle cx="564.0" cy="368.1" r="3.0"/><circle cx="566.5" cy="368.6" r="3.0"/><circle cx="493.8" cy="374.1" r="3.0"/><circle cx="501.6" cy="373.0" r="3.0"/><circle cx="510.3" cy="373.9" r="3.0"/><circle cx="517.6" cy="373.0" r="3.0"/><circle cx="522.0" cy="372.3" r="3.0"/><circle cx="530.1" cy="372.2" r="3.0"/><circle cx="533.6" cy="372.1" r="3.0"/><circle cx="537.1" cy="373.7" r="3.0"/><circle cx="542.6" cy="372.8" r="3.0"/><circle cx="546.0" cy="371.3" r="3.0"/><circle cx="550.6" cy="373.3" r="3.0"/><circle cx="559.9" cy="371.3" r="3.0"/><circle cx="564.0" cy="374.1" r="3.0"/><circle cx="502.2" cy="377.1" r="3.0"/><circle cx="505.9" cy="377.9" r="3.0"/><circle cx="508.1" cy="375.9" r="3.0"/><circle cx="522.2" cy="376.5" r="3.0"/><circle cx="525.5" cy="375.5" r="3.0"/><circle cx="528.8" cy="377.2" r="3.0"/><circle cx="534.4" cy="377.1" r="3.0"/><circle cx="543.0" cy="378.3" r="3.0"/><circle cx="547.3" cy="377.5" r="3.0"/><circle cx="550.0" cy="375.8" r="3.0"/><circle cx="559.4" cy="376.9" r="3.0"/><circle cx="564.0" cy="377.3" r="3.0"/><circle cx="497.1" cy="381.8" r="3.0"/><circle cx="503.8" cy="379.6" r="3.0"/><circle cx="507.9" cy="381.0" r="3.0"/><circle cx="512.4" cy="382.3" r="3.0"/><circle cx="523.1" cy="380.0" r="3.0"/><circle cx="530.2" cy="381.4" r="3.0"/><circle cx="535.3" cy="380.9" r="3.0"/><circle cx="541.5" cy="381.4" r="3.0"/><circle cx="548.1" cy="379.7" r="3.0"/><circle cx="555.8" cy="380.2" r="3.0"/><circle cx="558.9" cy="380.8" r="3.0"/><circle cx="504.1" cy="386.4" r="3.0"/><circle cx="510.0" cy="386.3" r="3.0"/><circle cx="514.5" cy="386.7" r="3.0"/><circle cx="520.3" cy="386.4" r="3.0"/><circle cx="526.7" cy="384.0" r="3.0"/><circle cx="530.7" cy="384.0" r="3.0"/><circle cx="540.0" cy="383.8" r="3.0"/><circle cx="543.7" cy="385.8" r="3.0"/><circle cx="547.0" cy="384.4" r="3.0"/><circle cx="554.8" cy="386.3" r="3.0"/><circle cx="559.6" cy="384.1" r="3.0"/><circle cx="513.5" cy="389.5" r="3.0"/><circle cx="519.0" cy="390.5" r="3.0"/><circle cx="521.5" cy="388.9" r="3.0"/><circle cx="527.4" cy="389.1" r="3.0"/><circle cx="537.9" cy="389.7" r="3.0"/><circle cx="542.0" cy="388.5" r="3.0"/><circle cx="552.4" cy="388.0" r="3.0"/></g>
<g fill="#ff0000"><circle cx="491.7" cy="343.3" r="3.0"/><circle cx="482.3" cy="349.7" r="3.0"/><circle cx="492.2" cy="349.2" r="3.0"/><circle cx="487.2" cy="353.7" r="3.0"/><circle cx="488.3" cy="357.1" r="3.0"/><circle cx="488.9" cy="363.4" r="3.0"/><circle cx="492.6" cy="363.6" r="3.0"/><circle cx="492.1" cy="366.3" r="3.0"/><circle cx="485.1" cy="372.1" r="3.0"/><circle cx="488.1" cy="372.3" r="3.0"/><circle cx="484.2" cy="374.9" r="3.0"/><circle cx="484.4" cy="379.7" r="3.0"/><circle cx="493.9" cy="385.1" r="3.0"/><circle cx="498.8" cy="385.3" r="3.0"/><circle cx="501.5" cy="388.8" r="3.0"/><circle cx="515.0" cy="389.8" r="3.0"/><circle cx="539.9" cy="388.5" r="3.0"/><circle cx="543.7" cy="389.2" r="3.0"/><circle cx="554.0" cy="338.0" r="3.0"/><circle cx="560.9" cy="343.5" r="3.0"/><circle cx="576.5" cy="347.9" r="3.0"/><circle cx="570.6" cy="353.7" r="3.0"/><circle cx="576.1" cy="351.8" r="3.0"/><circle cx="581.4" cy="356.6" r="3.0"/><circle cx="491.2" cy="394.7" r="3.0"/><circle cx="497.0" cy="396.0" r="3.0"/><circle cx="503.0" cy="400.6" r="3.0"/><circle cx="511.5" cy="393.4" r="3.0"/><circle cx="516.1" cy="399.3" r="3.0"/><circle cx="522.7" cy="394.7" r="3.0"/><circle cx="531.2" cy="394.0" r="3.0"/><circle cx="539.1" cy="390.8" r="3.0"/><circle cx="543.0" cy="394.7" r="3.0"/><circle cx="547.0" cy="396.0" r="3.0"/><circle cx="551.0" cy="396.0" r="3.0"/><circle cx="547.7" cy="389.5" r="3.0"/><circle cx="562.1" cy="391.4" r="3.0"/><circle cx="493.1" cy="390.8" r="3.0"/><circle cx="492.5" cy="396.7" r="3.0"/></g>
<g fill="#00cd00"><circle cx="515.4" cy="298.5" r="3.0"/><circle cx="528.8" cy="306.1" r="3.0"/><circle cx="536.7" cy="307.9" r="3.0"/><circle cx="464.5" cy="318.1" r="3.0"/><circle cx="480.3" cy="321.3" r="3.0"/><circle cx="496.1" cy="331.5" r="3.0"/><circle cx="501.9" cy="329.2" r="3.0"/><circle cx="507.7" cy="329.2" r="3.0"/><circle cx="510.1" cy="332.1" r="3.0"/><circle cx="506.6" cy="337.4" r="3.0"/><circle cx="512.4" cy="336.2" r="3.0"/><circle cx="517.1" cy="329.2" r="3.0"/><circle cx="519.4" cy="323.4" r="3.0"/><circle cx="496.6" cy="339.5" r="3.0"/><circle cx="485.0" cy="341.1" r="3.0"/><circle cx="501.9" cy="343.2" r="3.0"/><circle cx="513.0" cy="345.0" r="3.0"/><circle cx="503.1" cy="348.5" r="3.0"/><circle cx="529.5" cy="309.7" r="3.0"/><circle cx="528.9" cy="316.7" r="3.0"/><circle cx="542.6" cy="325.0" r="3.0"/><circle cx="536.2" cy="330.3" r="3.0"/><circle cx="500.0" cy="330.9" r="3.0"/><circle cx="502.3" cy="333.2" r="3.0"/><circle cx="518.7" cy="334.4" r="3.0"/><circle cx="523.4" cy="336.7" r="3.0"/><circle cx="528.0" cy="334.4" r="3.0"/><circle cx="531.5" cy="336.7" r="3.0"/><circle cx="545.5" cy="339.0" r="3.0"/><circle cx="550.2" cy="339.0" r="3.0"/><circle cx="567.4" cy="341.6" r="3.0"/><circle cx="573.9" cy="341.6" r="3.0"/><circle cx="579.7" cy="344.5" r="3.0"/><circle cx="589.6" cy="365.0" r="3.0"/><circle cx="581.5" cy="359.1" r="3.0"/><circle cx="582.6" cy="364.4" r="3.0"/><circle cx="584.4" cy="370.9" r="3.0"/><circle cx="579.2" cy="360.5" r="3.0"/><circle cx="576.0" cy="370.3" r="3.0"/><circle cx="572.7" cy="374.2" r="3.0"/><circle cx="570.7" cy="380.1" r="3.0"/><circle cx="576.6" cy="380.7" r="3.0"/><circle cx="562.9" cy="381.4" r="3.0"/><circle cx="553.7" cy="385.9" r="3.0"/><circle cx="562.2" cy="388.6" r="3.0"/><circle cx="489.9" cy="376.9" r="3.0"/><circle cx="488.5" cy="386.4" r="3.0"/><circle cx="511.8" cy="400.3" r="3.0"/><circle cx="537.1" cy="400.3" r="3.0"/><circle cx="496.6" cy="332.2" r="3.0"/><circle cx="502.7" cy="329.2" r="3.0"/><circle cx="508.9" cy="329.2" r="3.0"/><circle cx="507.3" cy="338.3" r="3.0"/><circle cx="501.2" cy="342.9" r="3.0"/><circle cx="496.6" cy="339.8" r="3.0"/><circle cx="484.4" cy="341.4" r="3.0"/></g>
<g fill="#00cd00"><circle cx="509.4" cy="372.0" r="3.0"/><circle cx="527.8" cy="344.8" r="3.0"/><circle cx="526.4" cy="361.1" r="3.0"/><circle cx="510.4" cy="371.2" r="3.0"/><circle cx="494.7" cy="374.7" r="3.0"/><circle cx="546.5" cy="352.0" r="3.0"/><circle cx="501.9" cy="357.8" r="3.0"/><circle cx="556.3" cy="349.7" r="3.0"/><circle cx="518.6" cy="349.8" r="3.0"/><circle cx="505.5" cy="364.9" r="3.0"/><circle cx="510.9" cy="347.5" r="3.0"/><circle cx="543.3" cy="386.4" r="3.0"/><circle cx="540.4" cy="368.7" r="3.0"/><circle cx="523.5" cy="360.0" r="3.0"/><circle cx="537.2" cy="370.8" r="3.0"/><circle cx="540.3" cy="351.2" r="3.0"/><circle cx="515.0" cy="371.2" r="3.0"/><circle cx="532.1" cy="361.9" r="3.0"/><circle cx="522.7" cy="345.5" r="3.0"/><circle cx="497.4" cy="359.1" r="3.0"/><circle cx="529.2" cy="365.4" r="3.0"/><circle cx="526.8" cy="369.4" r="3.0"/><circle cx="542.1" cy="372.9" r="3.0"/><circle cx="526.2" cy="385.5" r="3.0"/><circle cx="524.8" cy="361.6" r="3.0"/><circle cx="495.9" cy="375.2" r="3.0"/><circle cx="515.5" cy="361.0" r="3.0"/><circle cx="542.9" cy="365.9" r="3.0"/><circle cx="517.7" cy="350.5" r="3.0"/><circle cx="533.8" cy="365.0" r="3.0"/><circle cx="543.3" cy="376.2" r="3.0"/><circle cx="528.0" cy="363.8" r="3.0"/><circle cx="522.1" cy="378.1" r="3.0"/><circle cx="528.7" cy="350.8" r="3.0"/><circle cx="550.4" cy="359.6" r="3.0"/><circle cx="507.2" cy="386.2" r="3.0"/><circle cx="525.7" cy="359.6" r="3.0"/><circle cx="552.0" cy="347.3" r="3.0"/><circle cx="550.0" cy="362.9" r="3.0"/><circle cx="514.1" cy="372.5" r="3.0"/><circle cx="547.1" cy="369.5" r="3.0"/><circle cx="526.7" cy="369.4" r="3.0"/><circle cx="526.6" cy="365.9" r="3.0"/><circle cx="504.7" cy="364.0" r="3.0"/><circle cx="516.9" cy="378.2" r="3.0"/><circle cx="533.8" cy="353.7" r="3.0"/><circle cx="526.7" cy="376.3" r="3.0"/><circle cx="499.8" cy="360.5" r="3.0"/><circle cx="549.9" cy="346.9" r="3.0"/><circle cx="504.4" cy="378.4" r="3.0"/><circle cx="538.4" cy="369.8" r="3.0"/><circle cx="491.7" cy="368.7" r="3.0"/><circle cx="539.5" cy="361.0" r="3.0"/><circle cx="548.8" cy="361.4" r="3.0"/><circle cx="531.8" cy="337.2" r="3.0"/><circle cx="551.0" cy="379.9" r="3.0"/><circle cx="547.8" cy="358.2" r="3.0"/><circle cx="515.1" cy="361.3" r="3.0"/><circle cx="546.9" cy="375.0" r="3.0"/><circle cx="546.4" cy="377.9" r="3.0"/><circle cx="534.2" cy="367.3" r="3.0"/><circle cx="548.2" cy="342.3" r="3.0"/><circle cx="551.6" cy="344.7" r="3.0"/><circle cx="542.7" cy="365.7" r="3.0"/><circle cx="494.8" cy="355.0" r="3.0"/><circle cx="544.9" cy="348.9" r="3.0"/><circle cx="527.7" cy="360.8" r="3.0"/><circle cx="536.0" cy="367.6" r="3.0"/><circle cx="505.8" cy="359.1" r="3.0"/><circle cx="507.7" cy="342.3" r="3.0"/><circle cx="516.9" cy="359.4" r="3.0"/><circle cx="557.8" cy="374.5" r="3.0"/><circle cx="496.2" cy="366.4" r="3.0"/><circle cx="507.1" cy="371.0" r="3.0"/><circle cx="533.5" cy="385.1" r="3.0"/><circle cx="537.6" cy="389.3" r="3.0"/><circle cx="536.0" cy="364.8" r="3.0"/><circle cx="498.0" cy="361.3" r="3.0"/><circle cx="509.4" cy="357.6" r="3.0"/><circle cx="517.6" cy="380.5" r="3.0"/><circle cx="507.7" cy="355.3" r="3.0"/><circle cx="528.2" cy="373.9" r="3.0"/><circle cx="536.5" cy="337.2" r="3.0"/><circle cx="526.0" cy="373.0" r="3.0"/><circle cx="522.4" cy="368.8" r="3.0"/><circle cx="538.2" cy="358.5" r="3.0"/><circle cx="543.6" cy="376.0" r="3.0"/><circle cx="510.2" cy="386.0" r="3.0"/><circle cx="537.3" cy="373.1" r="3.0"/><circle cx="498.0" cy="357.6" r="3.0"/><circle cx="531.0" cy="370.2" r="3.0"/><circle cx="523.5" cy="335.8" r="3.0"/><circle cx="518.2" cy="362.7" r="3.0"/><circle cx="523.9" cy="351.2" r="3.0"/><circle cx="514.5" cy="366.9" r="3.0"/><circle cx="509.4" cy="356.3" r="3.0"/><circle cx="516.2" cy="364.7" r="3.0"/><circle cx="537.4" cy="357.3" r="3.0"/><circle cx="530.4" cy="340.2" r="3.0"/><circle cx="513.5" cy="378.3" r="3.0"/><circle cx="542.5" cy="338.1" r="3.0"/><circle cx="557.8" cy="351.6" r="3.0"/><circle cx="498.8" cy="383.7" r="3.0"/><circle cx="517.6" cy="350.2" r="3.0"/><circle cx="525.0" cy="372.7" r="3.0"/><circle cx="534.2" cy="350.5" r="3.0"/><circle cx="536.7" cy="358.0" r="3.0"/><circle cx="543.3" cy="370.1" r="3.0"/><circle cx="521.1" cy="375.0" r="3.0"/><circle cx="512.5" cy="389.0" r="3.0"/><circle cx="521.3" cy="367.2" r="3.0"/><circle cx="534.0" cy="387.6" r="3.0"/><circle cx="533.4" cy="354.1" r="3.0"/><circle cx="494.2" cy="361.6" r="3.0"/><circle cx="534.5" cy="371.4" r="3.0"/><circle cx="565.7" cy="359.1" r="3.0"/><circle cx="563.8" cy="361.7" r="3.0"/><circle cx="521.2" cy="371.0" r="3.0"/><circle cx="546.2" cy="359.8" r="3.0"/><circle cx="518.3" cy="386.1" r="3.0"/><circle cx="545.9" cy="382.0" r="3.0"/><circle cx="527.0" cy="366.0" r="3.0"/><circle cx="512.3" cy="371.1" r="3.0"/><circle cx="550.6" cy="374.7" r="3.0"/><circle cx="505.6" cy="376.6" r="3.0"/><circle cx="511.8" cy="365.1" r="3.0"/><circle cx="495.1" cy="351.4" r="3.0"/><circle cx="532.8" cy="341.3" r="3.0"/><circle cx="523.1" cy="372.0" r="3.0"/><circle cx="528.6" cy="365.0" r="3.0"/><circle cx="508.4" cy="361.6" r="3.0"/><circle cx="526.8" cy="356.0" r="3.0"/><circle cx="535.2" cy="379.1" r="3.0"/><circle cx="551.4" cy="383.7" r="3.0"/><circle cx="536.4" cy="377.9" r="3.0"/><circle cx="550.7" cy="384.8" r="3.0"/><circle cx="524.0" cy="340.9" r="3.0"/><circle cx="543.6" cy="373.0" r="3.0"/><circle cx="525.1" cy="360.0" r="3.0"/><circle cx="534.2" cy="380.0" r="3.0"/><circle cx="538.1" cy="357.0" r="3.0"/><circle cx="496.7" cy="350.8" r="3.0"/><circle cx="506.2" cy="370.4" r="3.0"/><circle cx="535.9" cy="364.0" r="3.0"/><circle cx="558.0" cy="346.6" r="3.0"/><circle cx="528.5" cy="338.0" r="3.0"/><circle cx="526.2" cy="350.2" r="3.0"/><circle cx="550.0" cy="363.5" r="3.0"/><circle cx="512.7" cy="369.3" r="3.0"/><circle cx="511.8" cy="364.9" r="3.0"/><circle cx="546.1" cy="341.4" r="3.0"/><circle cx="529.4" cy="373.0" r="3.0"/><circle cx="506.8" cy="343.8" r="3.0"/><circle cx="525.0" cy="356.2" r="3.0"/><circle cx="517.0" cy="375.2" r="3.0"/><circle cx="550.2" cy="367.8" r="3.0"/><circle cx="532.9" cy="367.9" r="3.0"/><circle cx="527.7" cy="375.8" r="3.0"/><circle cx="523.0" cy="356.0" r="3.0"/><circle cx="509.1" cy="347.0" r="3.0"/><circle cx="556.5" cy="356.8" r="3.0"/><circle cx="514.3" cy="370.1" r="3.0"/><circle cx="561.1" cy="376.5" r="3.0"/><circle cx="494.6" cy="369.2" r="3.0"/><circle cx="527.8" cy="374.3" r="3.0"/><circle cx="499.0" cy="358.9" r="3.0"/><circle cx="513.1" cy="377.3" r="3.0"/><circle cx="532.4" cy="371.2" r="3.0"/><circle cx="542.5" cy="356.6" r="3.0"/><circle cx="556.8" cy="366.8" r="3.0"/><circle cx="548.5" cy="343.7" r="3.0"/><circle cx="548.1" cy="373.7" r="3.0"/><circle cx="537.7" cy="335.7" r="3.0"/><circle cx="539.1" cy="383.8" r="3.0"/><circle cx="557.9" cy="351.8" r="3.0"/><circle cx="547.6" cy="361.1" r="3.0"/><circle cx="556.1" cy="344.6" r="3.0"/><circle cx="523.5" cy="356.0" r="3.0"/><circle cx="530.9" cy="358.6" r="3.0"/><circle cx="559.9" cy="370.9" r="3.0"/><circle cx="541.4" cy="376.1" r="3.0"/><circle cx="515.6" cy="349.2" r="3.0"/><circle cx="541.3" cy="366.2" r="3.0"/><circle cx="527.6" cy="370.5" r="3.0"/><circle cx="537.6" cy="335.9" r="3.0"/><circle cx="533.9" cy="374.2" r="3.0"/><circle cx="543.4" cy="359.2" r="3.0"/><circle cx="514.8" cy="388.5" r="3.0"/><circle cx="561.3" cy="361.3" r="3.0"/><circle cx="533.8" cy="363.9" r="3.0"/><circle cx="537.1" cy="352.5" r="3.0"/><circle cx="526.1" cy="351.4" r="3.0"/><circle cx="520.5" cy="349.2" r="3.0"/><circle cx="514.5" cy="374.0" r="3.0"/><circle cx="545.0" cy="358.4" r="3.0"/><circle cx="524.5" cy="365.4" r="3.0"/><circle cx="523.4" cy="338.3" r="3.0"/><circle cx="519.4" cy="355.0" r="3.0"/><circle cx="529.1" cy="373.3" r="3.0"/><circle cx="524.3" cy="377.3" r="3.0"/><circle cx="538.7" cy="379.5" r="3.0"/><circle cx="541.5" cy="353.3" r="3.0"/><circle cx="529.6" cy="382.2" r="3.0"/><circle cx="539.2" cy="375.4" r="3.0"/><circle cx="552.8" cy="357.6" r="3.0"/><circle cx="537.0" cy="366.9" r="3.0"/><circle cx="558.3" cy="354.9" r="3.0"/><circle cx="499.7" cy="380.2" r="3.0"/><circle cx="517.6" cy="363.7" r="3.0"/><circle cx="530.6" cy="372.3" r="3.0"/><circle cx="558.5" cy="379.1" r="3.0"/><circle cx="537.9" cy="360.0" r="3.0"/><circle cx="542.9" cy="358.9" r="3.0"/><circle cx="508.1" cy="387.9" r="3.0"/><circle cx="526.8" cy="377.6" r="3.0"/><circle cx="537.9" cy="363.8" r="3.0"/><circle cx="525.8" cy="363.5" r="3.0"/><circle cx="540.6" cy="365.0" r="3.0"/><circle cx="562.4" cy="349.5" r="3.0"/><circle cx="513.9" cy="361.2" r="3.0"/><circle cx="510.0" cy="348.7" r="3.0"/><circle cx="506.9" cy="350.9" r="3.0"/><circle cx="557.0" cy="358.1" r="3.0"/><circle cx="520.0" cy="345.4" r="3.0"/><circle cx="510.2" cy="353.5" r="3.0"/><circle cx="539.1" cy="380.2" r="3.0"/><circle cx="503.9" cy="365.0" r="3.0"/><circle cx="543.2" cy="350.6" r="3.0"/><circle cx="520.9" cy="377.9" r="3.0"/><circle cx="510.4" cy="376.1" r="3.0"/><circle cx="553.2" cy="340.7" r="3.0"/><circle cx="528.0" cy="342.8" r="3.0"/><circle cx="534.1" cy="360.3" r="3.0"/><circle cx="513.0" cy="365.0" r="3.0"/><circle cx="519.4" cy="371.5" r="3.0"/><circle cx="535.1" cy="349.2" r="3.0"/><circle cx="525.3" cy="340.9" r="3.0"/><circle cx="513.5" cy="339.3" r="3.0"/><circle cx="529.0" cy="347.8" r="3.0"/><circle cx="503.2" cy="360.6" r="3.0"/><circle cx="531.3" cy="342.1" r="3.0"/><circle cx="498.7" cy="374.2" r="3.0"/><circle cx="524.0" cy="340.8" r="3.0"/><circle cx="545.1" cy="384.9" r="3.0"/><circle cx="542.0" cy="366.7" r="3.0"/><circle cx="515.1" cy="360.3" r="3.0"/><circle cx="533.6" cy="352.6" r="3.0"/><circle cx="526.5" cy="364.1" r="3.0"/><circle cx="533.9" cy="355.7" r="3.0"/><circle cx="521.5" cy="373.6" r="3.0"/><circle cx="554.7" cy="371.6" r="3.0"/><circle cx="564.4" cy="374.0" r="3.0"/><circle cx="523.5" cy="361.3" r="3.0"/><circle cx="551.3" cy="361.4" r="3.0"/><circle cx="523.2" cy="366.9" r="3.0"/><circle cx="503.4" cy="360.8" r="3.0"/><circle cx="519.1" cy="345.7" r="3.0"/><circle cx="500.4" cy="358.8" r="3.0"/><circle cx="538.4" cy="350.7" r="3.0"/><circle cx="499.1" cy="369.2" r="3.0"/><circle cx="543.7" cy="361.4" r="3.0"/><circle cx="521.1" cy="359.3" r="3.0"/><circle cx="504.8" cy="383.8" r="3.0"/><circle cx="549.0" cy="356.3" r="3.0"/><circle cx="539.0" cy="358.6" r="3.0"/><circle cx="555.3" cy="341.6" r="3.0"/><circle cx="540.7" cy="372.2" r="3.0"/><circle cx="534.9" cy="363.3" r="3.0"/><circle cx="558.1" cy="379.6" r="3.0"/><circle cx="531.1" cy="367.5" r="3.0"/><circle cx="525.9" cy="347.9" r="3.0"/><circle cx="538.7" cy="360.7" r="3.0"/><circle cx="525.0" cy="364.1" r="3.0"/><circle cx="565.3" cy="352.1" r="3.0"/><circle cx="527.3" cy="347.4" r="3.0"/><circle cx="539.3" cy="360.1" r="3.0"/><circle cx="562.1" cy="374.1" r="3.0"/><circle cx="537.2" cy="367.0" r="3.0"/><circle cx="558.0" cy="344.7" r="3.0"/><circle cx="557.3" cy="353.9" r="3.0"/><circle cx="534.3" cy="351.2" r="3.0"/><circle cx="538.6" cy="377.0" r="3.0"/><circle cx="530.3" cy="363.0" r="3.0"/><circle cx="514.6" cy="375.1" r="3.0"/><circle cx="538.2" cy="359.3" r="3.0"/><circle cx="527.4" cy="375.0" r="3.0"/><circle cx="513.4" cy="354.4" r="3.0"/><circle cx="546.0" cy="350.0" r="3.0"/><circle cx="527.3" cy="357.9" r="3.0"/><circle cx="558.8" cy="366.1" r="3.0"/><circle cx="530.9" cy="339.0" r="3.0"/><circle cx="566.3" cy="358.9" r="3.0"/><circle cx="556.9" cy="370.3" r="3.0"/><circle cx="528.1" cy="337.6" r="3.0"/><circle cx="561.9" cy="367.9" r="3.0"/><circle cx="514.8" cy="354.4" r="3.0"/><circle cx="505.7" cy="347.5" r="3.0"/><circle cx="528.1" cy="373.6" r="3.0"/><circle cx="510.8" cy="374.5" r="3.0"/><circle cx="548.7" cy="365.0" r="3.0"/><circle cx="551.4" cy="351.3" r="3.0"/><circle cx="509.9" cy="359.6" r="3.0"/><circle cx="524.2" cy="360.5" r="3.0"/><circle cx="551.5" cy="353.6" r="3.0"/><circle cx="497.9" cy="364.2" r="3.0"/><circle cx="518.9" cy="340.8" r="3.0"/><circle cx="557.1" cy="359.9" r="3.0"/><circle cx="560.7" cy="364.5" r="3.0"/><circle cx="557.8" cy="386.8" r="3.0"/><circle cx="537.8" cy="335.6" r="3.0"/><circle cx="509.3" cy="355.4" r="3.0"/><circle cx="555.8" cy="355.1" r="3.0"/><circle cx="538.6" cy="369.8" r="3.0"/><circle cx="530.4" cy="379.3" r="3.0"/><circle cx="503.6" cy="366.4" r="3.0"/><circle cx="545.1" cy="369.6" r="3.0"/><circle cx="528.0" cy="344.5" r="3.0"/><circle cx="517.1" cy="368.4" r="3.0"/><circle cx="500.0" cy="350.3" r="3.0"/><circle cx="531.5" cy="380.1" r="3.0"/><circle cx="522.5" cy="351.3" r="3.0"/><circle cx="494.0" cy="355.3" r="3.0"/><circle cx="513.4" cy="359.0" r="3.0"/><circle cx="529.0" cy="381.9" r="3.0"/><circle cx="512.7" cy="338.0" r="3.0"/><circle cx="546.3" cy="356.7" r="3.0"/><circle cx="534.5" cy="381.5" r="3.0"/><circle cx="561.7" cy="367.8" r="3.0"/><circle cx="545.8" cy="362.6" r="3.0"/><circle cx="557.7" cy="372.3" r="3.0"/><circle cx="522.9" cy="369.2" r="3.0"/><circle cx="510.6" cy="365.2" r="3.0"/><circle cx="500.1" cy="375.8" r="3.0"/><circle cx="504.4" cy="366.8" r="3.0"/><circle cx="543.2" cy="342.3" r="3.0"/><circle cx="527.4" cy="359.1" r="3.0"/><circle cx="526.7" cy="348.8" r="3.0"/><circle cx="501.8" cy="352.9" r="3.0"/><circle cx="522.1" cy="353.5" r="3.0"/><circle cx="538.2" cy="343.7" r="3.0"/><circle cx="531.5" cy="377.4" r="3.0"/><circle cx="536.9" cy="345.5" r="3.0"/><circle cx="551.0" cy="364.9" r="3.0"/><circle cx="543.9" cy="363.3" r="3.0"/><circle cx="538.1" cy="369.0" r="3.0"/><circle cx="550.7" cy="341.3" r="3.0"/><circle cx="510.9" cy="368.5" r="3.0"/><circle cx="557.3" cy="382.9" r="3.0"/><circle cx="543.5" cy="354.1" r="3.0"/><circle cx="512.8" cy="349.4" r="3.0"/><circle cx="498.8" cy="364.8" r="3.0"/><circle cx="562.1" cy="376.8" r="3.0"/><circle cx="540.8" cy="364.3" r="3.0"/><circle cx="539.9" cy="375.5" r="3.0"/><circle cx="528.8" cy="365.2" r="3.0"/><circle cx="534.5" cy="349.8" r="3.0"/><circle cx="554.7" cy="360.8" r="3.0"/><circle cx="524.0" cy="356.0" r="3.0"/><circle cx="509.9" cy="363.6" r="3.0"/><circle cx="538.5" cy="354.4" r="3.0"/><circle cx="534.3" cy="350.1" r="3.0"/><circle cx="540.3" cy="345.6" r="3.0"/><circle cx="527.6" cy="355.8" r="3.0"/><circle cx="564.6" cy="369.3" r="3.0"/><circle cx="568.2" cy="366.2" r="3.0"/><circle cx="541.7" cy="337.1" r="3.0"/><circle cx="557.5" cy="346.0" r="3.0"/><circle cx="536.5" cy="366.2" r="3.0"/><circle cx="525.6" cy="343.6" r="3.0"/><circle cx="539.6" cy="372.4" r="3.0"/><circle cx="514.5" cy="360.7" r="3.0"/><circle cx="515.4" cy="338.6" r="3.0"/><circle cx="520.4" cy="339.1" r="3.0"/><circle cx="508.6" cy="352.5" r="3.0"/><circle cx="501.5" cy="347.4" r="3.0"/><circle cx="533.9" cy="369.2" r="3.0"/><circle cx="553.3" cy="372.9" r="3.0"/><circle cx="538.1" cy="341.5" r="3.0"/><circle cx="519.9" cy="383.4" r="3.0"/><circle cx="548.3" cy="389.0" r="3.0"/><circle cx="509.4" cy="372.8" r="3.0"/></g>
<ellipse cx="531.53" cy="361.49" rx="40.45" ry="52.68" transform="rotate(95.75 531.53 361.49)" fill="none" stroke="#10c010" stroke-width="1.7"/>
<path d="M419.2 417.3v3.2M419.2 249.5v-3.2M480.2 417.3v3.2M480.2 249.5v-3.2M541.2 417.3v3.2M541.2 249.5v-3.2M602.2 417.3v3.2M602.2 249.5v-3.2M663.2 417.3v3.2M663.2 249.5v-3.2M417.3 284.4h-3.2M681.5 284.4h3.2M417.3 346.2h-3.2M681.5 346.2h3.2M417.3 408.4h-3.2M681.5 408.4h3.2" stroke="#3a3a3a" stroke-width="1.1" fill="none"/>
<rect x="417.3" y="249.5" width="264.2" height="167.8" fill="none" stroke="#3a3a3a" stroke-width="1.3"/>
<text x="0" y="0" font-size="14.5" text-anchor="middle" font-weight="normal" transform="translate(419.2 437.3) scale(0.95 1)" >&#8211;0.2</text>
<text x="0" y="0" font-size="14.5" text-anchor="middle" font-weight="normal" transform="translate(480.2 437.3) scale(0.95 1)" >&#8211;0.1</text>
<text x="541.2" y="437.3" font-size="14.5" text-anchor="middle" font-weight="normal" >0</text>
<text x="0" y="0" font-size="14.5" text-anchor="middle" font-weight="normal" transform="translate(602.2 437.3) scale(0.95 1)" >0.1</text>
<text x="663.2" y="437.3" font-size="14.5" text-anchor="middle" font-weight="normal" >0.2</text>
<text x="0" y="0" font-size="14.5" text-anchor="end" font-weight="normal" transform="translate(406.4 289.4) scale(0.95 1)" >0.1</text>
<text x="408.5" y="351.2" font-size="14.5" text-anchor="end" font-weight="normal" >0</text>
<text x="0" y="0" font-size="14.5" text-anchor="end" font-weight="normal" transform="translate(406.4 413.4) scale(0.95 1)" >&#8211;0.1</text>
<text x="0" y="0" font-size="14.5" text-anchor="middle" font-weight="normal" transform="translate(549.4 457.4) scale(0.96 1)" >PC1</text>
<text x="0" y="0" font-size="14.5" text-anchor="middle" transform="translate(361.8 333.6) rotate(-90) scale(0.98 1)">PC2</text>
<rect x="631.8" y="252.4" width="47.60000000000002" height="29.200000000000017" fill="#fff" stroke="#555" stroke-width="0.9"/>
<circle cx="637.1999999999999" cy="257.7" r="2.4" fill="#1a80ff"/>
<text x="643.3" y="260.9" font-size="9">Controls</text>
<circle cx="637.1999999999999" cy="267.0" r="2.4" fill="#fa1448"/>
<text x="643.3" y="270.4" font-size="9">Cancers</text>
<circle cx="637.1999999999999" cy="276.1" r="2.4" fill="#00cd00"/>
<text x="643.3" y="279.8" font-size="9">PCOS</text>
<text x="349.5" y="252.5" font-size="21" text-anchor="start" font-weight="bold" >d</text>
</svg></body></html>
